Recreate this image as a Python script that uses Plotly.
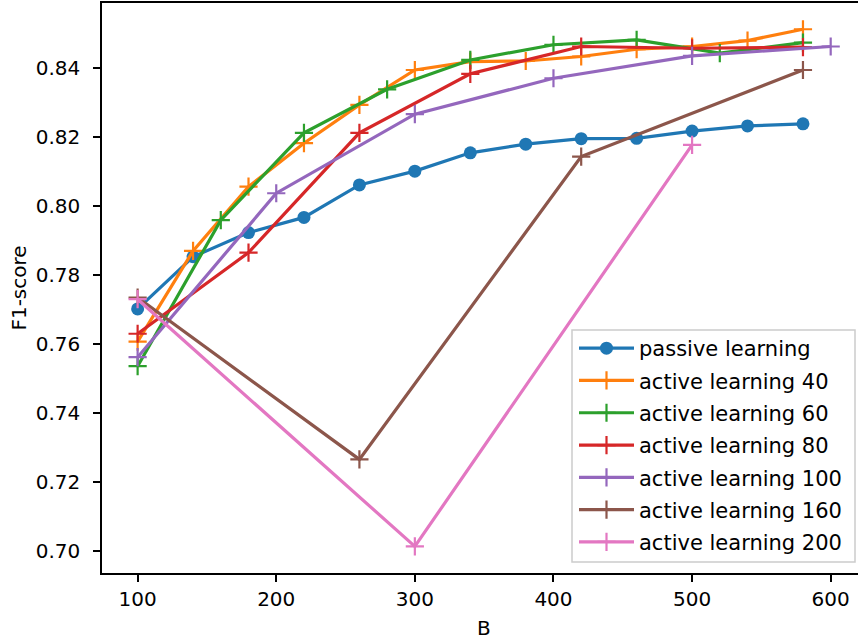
import plotly.graph_objects as go

# ---- data ----
passive_x = [100, 140, 180, 220, 260, 300, 340, 380, 420, 460, 500, 540, 580]
passive_y = [0.7702, 0.7853, 0.7923, 0.7967, 0.8061, 0.8101, 0.8154, 0.8179, 0.8195, 0.8196, 0.8217, 0.8232, 0.8238]

al40_x = [100, 140, 180, 220, 260, 300, 340, 380, 420, 460, 500, 540, 580]
al40_y = [0.7607, 0.7870, 0.8056, 0.8182, 0.8293, 0.8394, 0.8418, 0.8420, 0.8433, 0.8454, 0.8462, 0.8479, 0.8512]

al60_x = [100, 160, 220, 280, 340, 400, 460, 520, 580]
al60_y = [0.7536, 0.7959, 0.8212, 0.8338, 0.8423, 0.8467, 0.8481, 0.8443, 0.8473]

al80_x = [100, 180, 260, 340, 420, 500, 580]
al80_y = [0.7630, 0.7865, 0.8212, 0.8383, 0.8462, 0.8457, 0.8460]

al100_x = [100, 200, 300, 400, 500, 600]
al100_y = [0.7562, 0.8037, 0.8266, 0.8370, 0.8435, 0.8462]

al160_x = [100, 260, 420, 580]
al160_y = [0.7735, 0.7266, 0.8143, 0.8394]

al200_x = [100, 300, 500]
al200_y = [0.7730, 0.7014, 0.8177]

series_names = ["passive learning", "active learning 40", "active learning 60",
                "active learning 80", "active learning 100", "active learning 160",
                "active learning 200"]
colors = ["#1f77b4", "#ff7f0e", "#2ca02c", "#d62728", "#9467bd", "#8c564b", "#e377c2"]
y_ticks = [0.70, 0.72, 0.74, 0.76, 0.78, 0.80, 0.82, 0.84]
x_ticks = [100, 200, 300, 400, 500, 600]

series = [(passive_x, passive_y), (al40_x, al40_y), (al60_x, al60_y), (al80_x, al80_y),
          (al100_x, al100_y), (al160_x, al160_y), (al200_x, al200_y)]

FONT = "DejaVu Sans"
TICK_FS = 20
LEG_FS = 21
W, H = 858, 639
ML, MR, MT, MB = 102, 0, 3, 66
PW, PH = W - ML - MR, H - MT - MB


def px_to_paper_x(px):
    return (px - ML) / PW


def px_to_paper_y(py):
    return (H - MB - py) / PH


fig = go.Figure()
for i, ((xs, ys), name, c) in enumerate(zip(series, series_names, colors)):
    if i == 0:
        marker = dict(symbol="circle", size=13, color=c, line=dict(width=0))
    else:
        marker = dict(symbol="cross-thin", size=13, color=c, line=dict(width=2.2, color=c))
    fig.add_trace(go.Scatter(
        x=xs, y=ys, mode="lines+markers", name=name,
        line=dict(color=c, width=3.2), marker=marker,
        legendgroup=f"g{i}",
    ))

fig.update_layout(
    width=W, height=H,
    margin=dict(l=ML, r=MR, t=MT, b=MB, autoexpand=False),
    plot_bgcolor="white", paper_bgcolor="white",
    font=dict(family=FONT, size=TICK_FS, color="black"),
    showlegend=True,
    legend=dict(
        x=px_to_paper_x(574), y=px_to_paper_y(328), xanchor="left", yanchor="top",
        bgcolor="rgba(0,0,0,0)", borderwidth=0, itemwidth=55,
        font=dict(family=FONT, size=LEG_FS, color="black"),
        tracegroupgap=2,
    ),
    shapes=[dict(type="rect", xref="paper", yref="paper",
                 x0=px_to_paper_x(572), x1=px_to_paper_x(855),
                 y0=px_to_paper_y(562), y1=px_to_paper_y(330),
                 fillcolor="rgba(255,255,255,0.8)",
                 line=dict(color="#cccccc", width=1.5), layer="above")],
    xaxis=dict(
        range=[74.3, 619.7], tickvals=x_ticks, ticktext=[str(v) for v in x_ticks],
        showgrid=False, zeroline=False, automargin=False,
        showline=True, linecolor="black", linewidth=1.6, mirror=True,
        ticks="outside", ticklen=7, tickwidth=1.6, tickcolor="black",
        tickfont=dict(family=FONT, size=TICK_FS, color="black"),
    ),
    yaxis=dict(
        range=[0.6937, 0.8588], tickvals=y_ticks, ticktext=[f"{v:.2f}" for v in y_ticks],
        showgrid=False, zeroline=False, automargin=False,
        showline=True, linecolor="black", linewidth=1.6, mirror=False,
        ticks="outside", ticklen=7, tickwidth=1.6, tickcolor="black",
        ticklabelstandoff=9,
        tickfont=dict(family=FONT, size=TICK_FS, color="black"),
        title=dict(text="F1-score", font=dict(family=FONT, size=TICK_FS, color="black"), standoff=4),
    ),
    annotations=[dict(
        text="B", x=350, xref="x", y=0, yref="paper", yanchor="top",
        yshift=-41, showarrow=False, font=dict(family=FONT, size=TICK_FS, color="black"),
    )],
)

fig.write_html(
    "out.html",
    config={"displayModeBar": False},
    post_script="document.body.style.margin='0';document.body.style.overflow='hidden';",
)
